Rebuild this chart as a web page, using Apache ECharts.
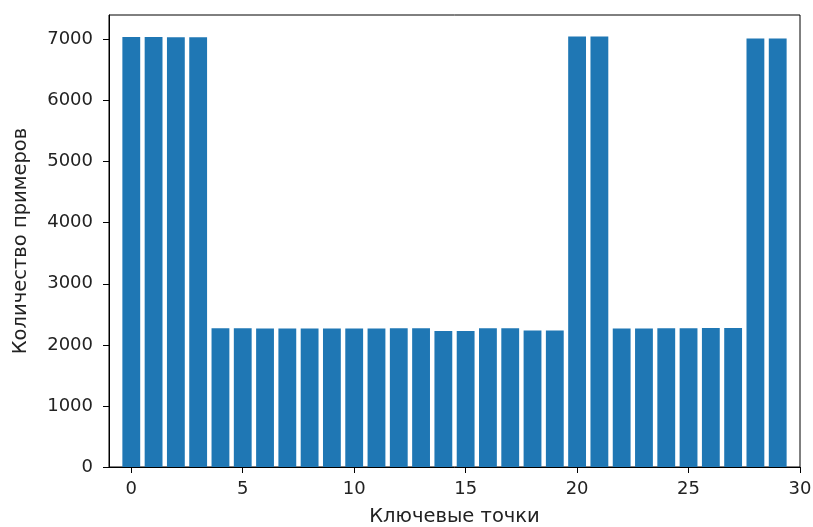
<!DOCTYPE html>
<html>
<head>
<meta charset="utf-8">
<script src="https://cdn.jsdelivr.net/npm/echarts@6/dist/echarts.min.js"></script>
<style>
html,body{margin:0;padding:0;background:#fff;}
#chart{width:813px;height:527px;}
</style>
</head>
<body>
<div id="chart"></div>
<script>
// Data
const keypointIndex = [0,1,2,3,4,5,6,7,8,9,10,11,12,13,14,15,16,17,18,19,20,21,22,23,24,25,26,27,28,29];
const sampleCounts = [7039,7039,7036,7036,2271,2271,2267,2267,2268,2268,2268,2268,2270,2270,2225,2225,2270,2270,2236,2236,7049,7049,2269,2269,2270,2270,2275,2275,7016,7016];
const xTickValues = [0,5,10,15,20,25,30];
const yTickValues = [0,1000,2000,3000,4000,5000,6000,7000];
const xTitle = 'Ключевые точки';
const yTitle = 'Количество примеров';

const W = 813, H = 527;
const gridLeft = 109, gridRight = 13, gridTop = 15, gridBottom = 60;
const xMin = -1, xMax = 30, yMin = 0, yMax = 7401;
const plotW = W - gridLeft - gridRight;
const barW = 0.8 * plotW / (xMax - xMin);

const font = 'DejaVu Sans';
const txt = '#222222';
const tickFont = 18;
const titleFont = 19.5;

const chart = echarts.init(document.getElementById('chart'), null, {renderer:'canvas', width:W, height:H});
chart.setOption({
  animation:false,
  backgroundColor:'#ffffff',
  grid:{left:gridLeft, right:gridRight, top:gridTop, bottom:gridBottom, show:true, borderColor:'#000', borderWidth:1, containLabel:false, outerBoundsMode:'none'},
  xAxis:{
    type:'value', min:xMin, max:xMax,
    name:xTitle, nameLocation:'middle', nameGap:40,
    nameTextStyle:{fontFamily:font, fontSize:titleFont, color:txt},
    axisLine:{show:true, onZero:false, lineStyle:{color:'#000', width:1}},
    axisTick:{show:true, length:6, lineStyle:{color:'#000', width:1}, customValues:xTickValues},
    axisLabel:{show:true, margin:13, fontFamily:font, fontSize:tickFont, color:txt, customValues:xTickValues, formatter:v=>String(v)},
    splitLine:{show:false}
  },
  yAxis:{
    type:'value', min:yMin, max:yMax,
    name:yTitle, nameLocation:'middle', nameGap:78, nameRotate:90,
    nameTextStyle:{fontFamily:font, fontSize:titleFont, color:txt},
    axisLine:{show:true, onZero:false, lineStyle:{color:'#000', width:1}},
    axisTick:{show:true, length:6, lineStyle:{color:'#000', width:1}, customValues:yTickValues},
    axisLabel:{show:true, margin:16, fontFamily:font, fontSize:tickFont, color:txt, customValues:yTickValues, formatter:v=>String(v)},
    splitLine:{show:false}
  },
  series:[{
    type:'bar',
    data:keypointIndex.map((k,i)=>[k, sampleCounts[i]]),
    barWidth:barW,
    itemStyle:{color:'#1f77b4'},
    emphasis:{disabled:true}
  }]
});
</script>
</body>
</html>
